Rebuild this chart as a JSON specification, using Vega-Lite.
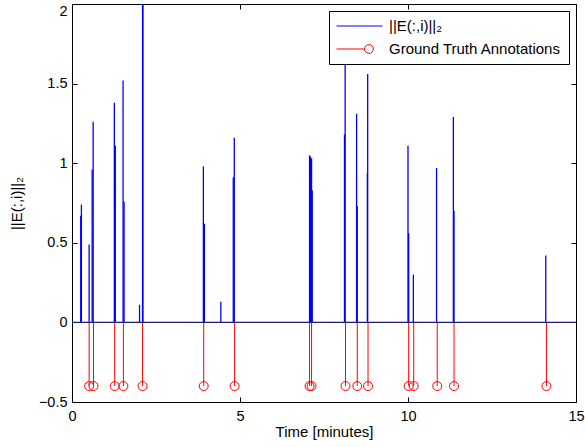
{
  "$schema": "https://vega.github.io/schema/vega-lite/v6.json",
  "width": 504,
  "height": 398,
  "autosize": "none",
  "padding": {"left": 72, "top": 4, "right": 9, "bottom": 45},
  "background": "white",
  "config": {
    "view": {"stroke": "black", "strokeWidth": 1},
    "font": "Liberation Sans",
    "axis": {"grid": false, "domain": false, "tickColor": "black", "labelColor": "black", "titleColor": "black", "labelFont": "Liberation Sans", "titleFont": "Liberation Sans", "labelFontSize": 14.5, "titleFontSize": 15, "titleFontWeight": "normal", "tickSize": -5, "labelFlush": false, "format": "~g"}
  },
  "datasets": {
    "signal": [
      {"t": 0.26, "v": 0.67}, {"t": 0.28, "v": 0.74}, {"t": 0.51, "v": 0.49},
      {"t": 0.60, "v": 0.96}, {"t": 0.63, "v": 1.26}, {"t": 1.26, "v": 1.38},
      {"t": 1.29, "v": 1.11}, {"t": 1.52, "v": 1.52}, {"t": 1.55, "v": 0.76},
      {"t": 2.01, "v": 0.11}, {"t": 2.10, "v": 2.05}, {"t": 2.11, "v": 2.05},
      {"t": 3.91, "v": 0.98}, {"t": 3.94, "v": 0.62}, {"t": 4.43, "v": 0.13},
      {"t": 4.80, "v": 0.91}, {"t": 4.83, "v": 1.16}, {"t": 7.07, "v": 1.05},
      {"t": 7.10, "v": 1.04}, {"t": 7.13, "v": 1.03}, {"t": 7.15, "v": 0.83},
      {"t": 8.11, "v": 1.18}, {"t": 8.13, "v": 1.68}, {"t": 8.47, "v": 1.31},
      {"t": 8.49, "v": 0.73}, {"t": 8.79, "v": 0.94}, {"t": 8.80, "v": 1.56},
      {"t": 10.00, "v": 1.11}, {"t": 10.02, "v": 0.56}, {"t": 10.16, "v": 0.30},
      {"t": 10.85, "v": 0.97}, {"t": 11.35, "v": 1.29}, {"t": 11.37, "v": 0.70},
      {"t": 14.10, "v": 0.42}
    ],
    "truth": [
      {"t": 0.51}, {"t": 0.64}, {"t": 1.27}, {"t": 1.53}, {"t": 2.10},
      {"t": 3.92}, {"t": 4.84}, {"t": 7.07}, {"t": 7.13}, {"t": 8.14},
      {"t": 8.49}, {"t": 8.81}, {"t": 10.02}, {"t": 10.17}, {"t": 10.87},
      {"t": 11.37}, {"t": 14.12}
    ]
  },
  "layer": [
    {
      "data": {"name": "signal"},
      "mark": {"type": "rule", "strokeWidth": 1.3, "clip": true},
      "encoding": {
        "x": {"field": "t", "type": "quantitative", "scale": {"domain": [0, 15], "nice": false, "zero": false},
          "axis": {"orient": "bottom", "values": [0, 5, 10, 15], "title": "Time [minutes]", "labelPadding": 12, "titlePadding": 2}},
        "y": {"field": "v", "type": "quantitative", "scale": {"domain": [-0.5, 2], "nice": false, "zero": false},
          "axis": {"orient": "left", "values": [-0.5, 0, 0.5, 1, 1.5, 2], "title": "||E(:,i)||₂", "labelPadding": 10, "titlePadding": 14,
            "labelBaseline": {"expr": "datum.value === 2 ? 'top' : 'middle'"}}},
        "y2": {"datum": 0},
        "color": {"datum": "||E(:,i)||₂", "type": "nominal",
          "scale": {"domain": ["||E(:,i)||₂", "Ground Truth Annotations"], "range": ["#0000ff", "#ff0000"]},
          "legend": {
            "orient": "top-right", "offset": 7, "title": null, "fillColor": "white", "strokeColor": "black",
            "padding": 7, "labelFont": "Liberation Sans", "labelFontSize": 15, "labelColor": "black",
            "symbolSize": 2116, "clipHeight": 16, "rowPadding": 7, "labelOffset": 6, "symbolStrokeWidth": 1,
            "cornerRadius": 0, "labelLimit": 400,
            "encode": {"symbols": {"update": {
              "shape": {"signal": "datum.value === 'Ground Truth Annotations' ? 'M-1,0H0.22M0.6,0A0.19,0.19 0 1,1 0.22,0A0.19,0.19 0 1,1 0.6,0' : 'M-1,0H1'"},
              "fill": {"value": "transparent"}
            }}}
          }}
      }
    },
    {
      "data": {"name": "truth"},
      "mark": {"type": "rule", "strokeWidth": 1},
      "encoding": {
        "x": {"field": "t", "type": "quantitative", "axis": {"orient": "top", "values": [0, 5, 10, 15], "labels": false, "title": null}},
        "y": {"datum": -0.4, "type": "quantitative", "axis": {"orient": "right", "values": [-0.5, 0, 0.5, 1, 1.5, 2], "labels": false, "title": null}},
        "y2": {"datum": 0},
        "color": {"datum": "Ground Truth Annotations", "type": "nominal"}
      }
    },
    {
      "data": {"name": "truth"},
      "mark": {"type": "point", "shape": "circle", "size": 80, "filled": false, "strokeWidth": 1, "opacity": 1},
      "encoding": {
        "x": {"field": "t", "type": "quantitative", "axis": null},
        "y": {"datum": -0.4, "type": "quantitative", "axis": null},
        "color": {"datum": "Ground Truth Annotations", "type": "nominal"}
      }
    },
    {
      "data": {"values": [{}]},
      "mark": {"type": "rule", "color": "#1c1c6b", "strokeWidth": 1.2},
      "encoding": {
        "y": {"datum": 0, "type": "quantitative", "axis": null}
      }
    }
  ],
  "resolve": {"axis": {"x": "independent", "y": "independent"}}
}
